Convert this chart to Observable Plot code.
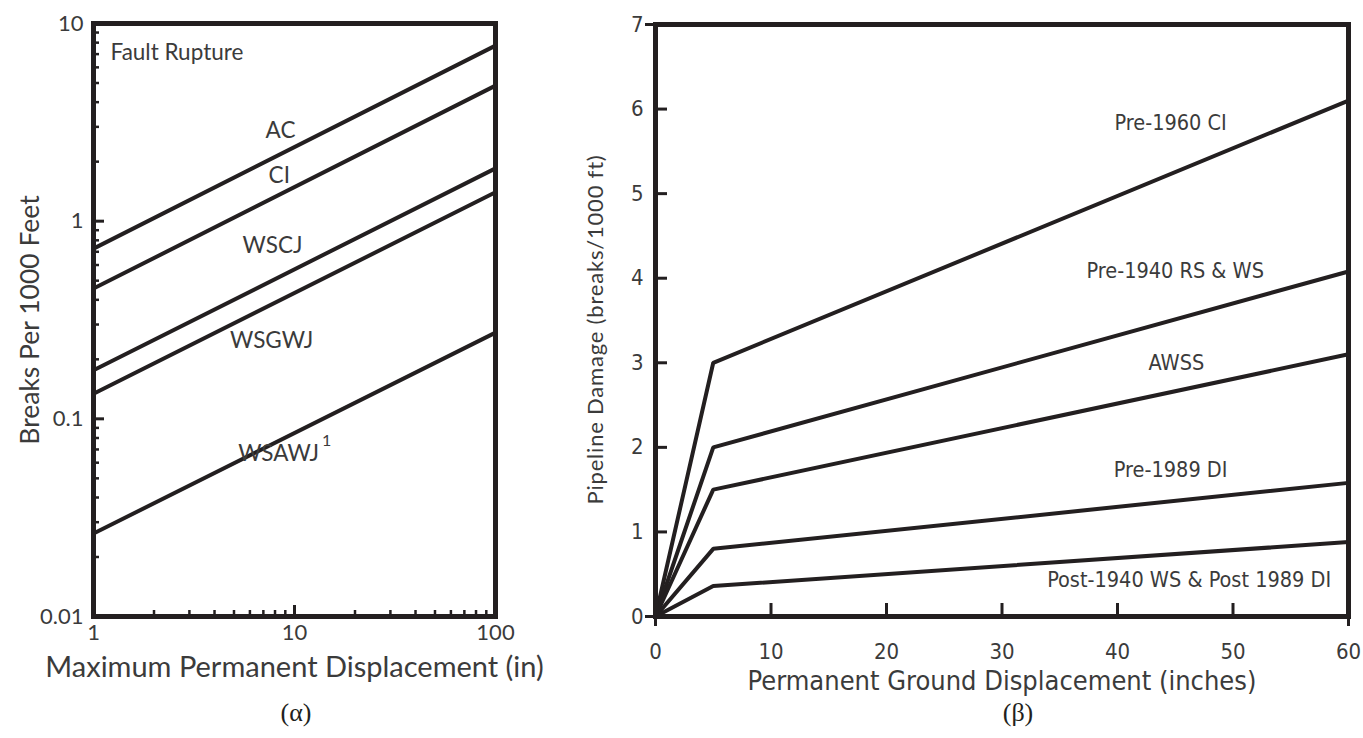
<!DOCTYPE html>
<html>
<head>
<meta charset="utf-8">
<script src="https://cdn.jsdelivr.net/npm/d3@7"></script>
<script src="https://cdn.jsdelivr.net/npm/@observablehq/plot@0.6"></script>
<style>
  body { margin: 0; background: #fff; }
  #wrap { position: relative; width: 1363px; height: 738px; overflow: hidden; background: #fff; }
  #left { position: absolute; left: 0; top: 0; }
  #right { position: absolute; left: 560px; top: 0; }
  .cap { position: absolute; top: 698px; font-family: "Liberation Serif", serif; font-size: 26px; color: #231f20; transform: translateX(-50%); }
</style>
</head>
<body>
<div id="wrap">
  <div id="left"></div>
  <div id="right"></div>
  <div class="cap" style="left:296px">(α)</div>
  <div class="cap" style="left:1018px">(β)</div>
</div>
<script>
// ---------- Panel (α): Fault rupture, log-log ----------
const leftSeries   = ["AC", "CI", "WSCJ", "WSGWJ", "WSAWJ"];
const leftX        = [1, 100];
const leftAt1      = [0.726, 0.456, 0.176, 0.134, 0.0263];
const leftAt100    = [7.73, 4.85, 1.85, 1.40, 0.273];

const leftYMajor       = [0.01, 0.1, 1, 10];
const leftYMajorLabels = ["0.01", "0.1", "1", "10"];
const leftYMinor = [0.02, 0.03, 0.04, 0.05, 0.06, 0.07, 0.08, 0.09,
                    0.2, 0.3, 0.4, 0.5, 0.6, 0.7, 0.8, 0.9,
                    2, 3, 4, 5, 6, 7, 8, 9];
const leftXMajor       = [1, 10, 100];
const leftXMajorLabels = ["1", "10", "100"];
const leftXMinor = [2, 3, 4, 5, 6, 7, 8, 9, 20, 30, 40, 50, 60, 70, 80, 90];

const leftLabelText = ["Fault Rupture", "AC", "CI", "WSCJ", "WSGWJ", "WSAWJ"];
const leftLabelX    = [1.215, 8.52, 8.4, 7.77, 7.69, 8.33];
const leftLabelY    = [7.13, 2.87, 1.70, 0.754, 0.249, 0.0668];

// ---------- Panel (β): Permanent ground displacement ----------
const rightSeries = ["Pre-1960 CI", "Pre-1940 RS & WS", "AWSS", "Pre-1989 DI", "Post-1940 WS & Post 1989 DI"];
const rightX      = [0, 5, 60];
const rightAt0    = [0, 0, 0, 0, 0];
const rightAt5    = [3.0, 2.0, 1.5, 0.8, 0.36];
const rightAt60   = [6.1, 4.08, 3.1, 1.58, 0.88];

const rightYTicks = [0, 1, 2, 3, 4, 5, 6, 7];
const rightYInner = [1, 2, 3, 4, 5, 6];
const rightXTicks = [0, 10, 20, 30, 40, 50, 60];
const rightXInner = [10, 20, 30, 40, 50];
const rightEnds   = [0, 60];
const rightYEnds  = [0, 7];

const rightLabelX = [44.6, 45.0, 45.1, 44.6, 46.2];
const rightLabelY = [5.83, 4.08, 3.0, 1.73, 0.43];

// ---------- tables ----------
const leftRows = leftSeries.flatMap((s, i) => [
  {series: s, x: leftX[0], y: leftAt1[i]},
  {series: s, x: leftX[1], y: leftAt100[i]}
]);
const leftLabels = leftLabelText.map((t, i) => ({t, x: leftLabelX[i], y: leftLabelY[i]}));
const rightRows = rightSeries.flatMap((s, i) => [
  {series: s, x: rightX[0], y: rightAt0[i]},
  {series: s, x: rightX[1], y: rightAt5[i]},
  {series: s, x: rightX[2], y: rightAt60[i]}
]);
const rightLabels = rightSeries.map((t, i) => ({t, x: rightLabelX[i], y: rightLabelY[i]}));

const INK = "#231f20";
const TXT = "#3b3b3b";
const none = () => "";

const left = Plot.plot({
  width: 560, height: 690,
  marginLeft: 93, marginRight: 65, marginTop: 23, marginBottom: 74,
  style: {fontFamily: "Lato, 'Open Sans', sans-serif", background: "white", color: INK, overflow: "visible"},
  x: {type: "log", domain: [1, 100], axis: null},
  y: {type: "log", domain: [0.01, 10], axis: null},
  marks: [
    Plot.axisY({ticks: leftYMinor, tickSize: -6, tickFormat: none, stroke: INK, strokeWidth: 2.5, label: null}),
    Plot.axisY({ticks: leftYMajor, tickSize: -11, tickFormat: none, stroke: INK, strokeWidth: 3, label: null}),
    Plot.axisY({ticks: leftYMajor, tickSize: 0, tickPadding: 10, tickFormat: d => leftYMajorLabels[leftYMajor.indexOf(d)], fontSize: 22, fill: TXT, label: null}),
    Plot.axisX({ticks: leftXMinor, tickSize: -6, tickFormat: none, stroke: INK, strokeWidth: 2.5, label: null}),
    Plot.axisX({ticks: leftXMajor, tickSize: -11, tickFormat: none, stroke: INK, strokeWidth: 3, label: null}),
    Plot.axisX({ticks: leftXMajor, tickSize: 0, tickPadding: 8, tickFormat: d => leftXMajorLabels[leftXMajor.indexOf(d)], fontSize: 22, fill: TXT, label: null}),
    Plot.line(leftRows, {x: "x", y: "y", z: "series", stroke: INK, strokeWidth: 4}),
    Plot.frame({stroke: INK, strokeWidth: 5}),
    Plot.text(leftLabels.slice(0, 1), {x: "x", y: "y", text: "t", textAnchor: "start", fontSize: 22.5, fill: TXT}),
    Plot.text(leftLabels.slice(1), {x: "x", y: "y", text: "t", fontSize: 22.5, fill: TXT}),
    Plot.text(leftLabels.slice(5), {x: "x", y: "y", text: () => "1", fontSize: 16, fill: TXT, dx: 48, dy: -13}),
    Plot.text(["Breaks Per 1000 Feet"], {frameAnchor: "left", dx: -63, rotate: -90, textAnchor: "middle", lineAnchor: "middle", fontSize: 26.5, fill: TXT}),
    Plot.text(["Maximum Permanent Displacement (in)"], {frameAnchor: "bottom", dy: 51, textAnchor: "middle", lineAnchor: "middle", fontSize: 29, fill: TXT})
  ]
});
document.getElementById("left").appendChild(left);

const COND = "'Liberation Sans Narrow', 'DejaVu Sans Condensed', 'Roboto Condensed', sans-serif";
const right = Plot.plot({
  width: 803, height: 690,
  marginLeft: 95, marginRight: 15, marginTop: 24, marginBottom: 74,
  style: {fontFamily: COND, background: "white", color: INK, overflow: "visible"},
  x: {domain: [0, 60], axis: null},
  y: {domain: [0, 7], axis: null},
  marks: [
    Plot.axisY({ticks: rightYInner, tickSize: -12, tickFormat: none, stroke: INK, strokeWidth: 3, label: null}),
    Plot.axisY({ticks: rightYEnds, tickSize: 10, tickFormat: none, stroke: INK, strokeWidth: 3, label: null}),
    Plot.axisY({ticks: rightYTicks, tickSize: 0, tickPadding: 12, tickFormat: d => String(d), fontSize: 22, fill: TXT, label: null}),
    Plot.axisX({ticks: rightXInner, tickSize: -13, tickFormat: none, stroke: INK, strokeWidth: 3, label: null}),
    Plot.axisX({ticks: rightEnds, tickSize: 10, tickFormat: none, stroke: INK, strokeWidth: 3, label: null}),
    Plot.axisX({ticks: rightXTicks, tickSize: 0, tickPadding: 27, tickFormat: d => String(d), fontSize: 22, fill: TXT, label: null}),
    Plot.line(rightRows, {x: "x", y: "y", z: "series", stroke: INK, strokeWidth: 4, strokeLinejoin: "miter"}),
    Plot.frame({stroke: INK, strokeWidth: 5}),
    Plot.text(rightLabels, {x: "x", y: "y", text: "t", fontSize: 21.5, fill: TXT}),
    Plot.text(["Pipeline Damage (breaks/1000 ft)"], {frameAnchor: "left", dx: -60, dy: 9, rotate: -90, textAnchor: "middle", lineAnchor: "middle", fontSize: 22, fill: TXT, fontFamily: "Lato, sans-serif", style: "letter-spacing: 0.8px"}),
    Plot.text(["Permanent Ground Displacement (inches)"], {frameAnchor: "bottom", dy: 65, textAnchor: "middle", lineAnchor: "middle", fontSize: 27, fill: TXT})
  ]
});
// letter spacing for the rotated y title of panel (β)
right.querySelectorAll("text").forEach(t => {
  if (t.textContent === "Pipeline Damage (breaks/1000 ft)") t.setAttribute("letter-spacing", "0.8");
});
document.getElementById("right").appendChild(right);
</script>
</body>
</html>
